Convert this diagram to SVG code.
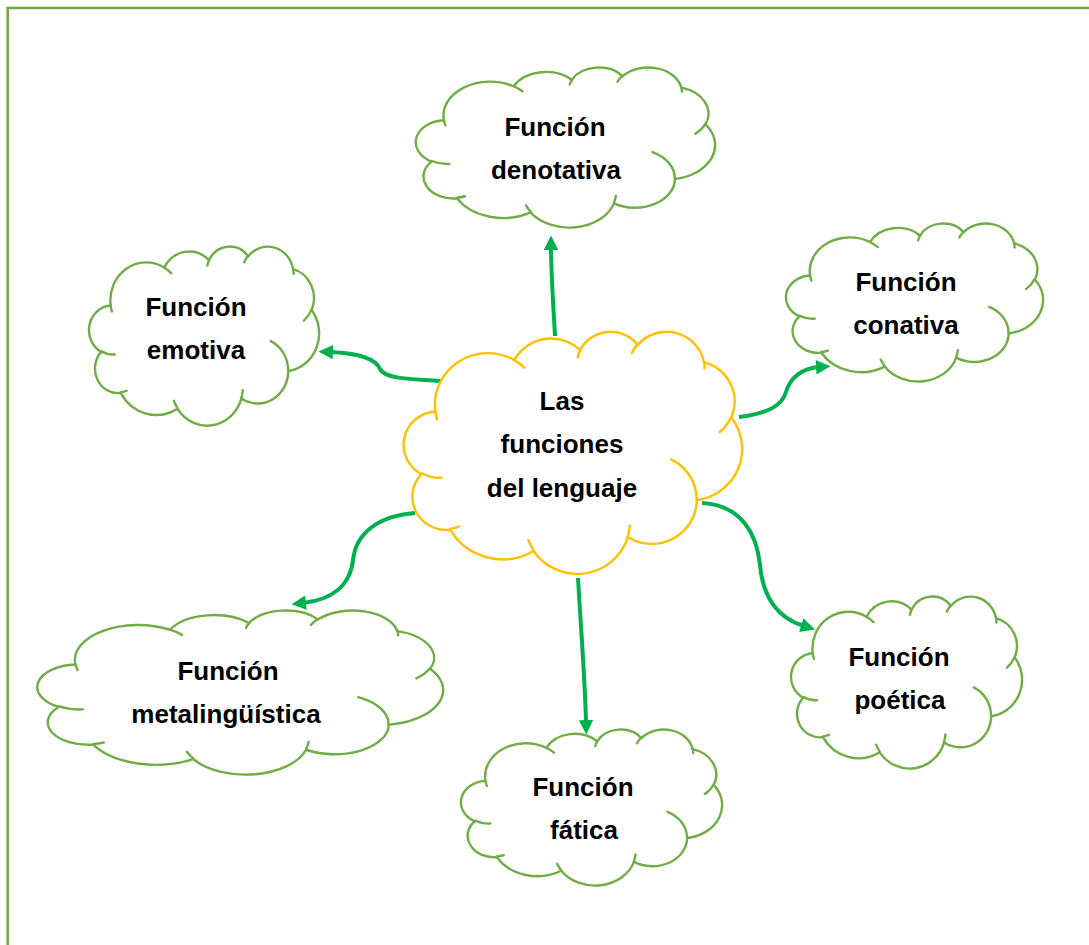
<svg xmlns="http://www.w3.org/2000/svg" xmlns:xlink="http://www.w3.org/1999/xlink" width="1089" height="945" viewBox="0 0 1089 945">
<style>
.frame{fill:#ffffff;stroke:#70AD47;stroke-width:2.6}
.cloud{fill:#ffffff;stroke-width:2.4;stroke-linecap:round}
.tuck{fill:none;stroke-width:2.4;stroke-linecap:round}
.g{stroke:#70AD47}
.y{stroke:#FFC000}
.lbl{font-family:"Liberation Sans",Arial,sans-serif;font-weight:bold;font-size:26px;fill:#000000;text-anchor:middle}
.conn{fill:none;stroke:#00B050;stroke-width:4;marker-end:url(#arrow)}
</style>
<defs>
<marker id="arrow" viewBox="0 0 10 10" refX="2" refY="5" markerWidth="4" markerHeight="3.6" orient="auto" markerUnits="strokeWidth">
<path d="M0,0 L10,5 L0,10 Z" fill="#00B050"/>
</marker>
<path id="cloudOuter" vector-effect="non-scaling-stroke" d="M39,143.7 A67.53,91.9 0 0 1 140.05,52.02 A53.33,72.67 0 0 1 224.56,34.31 A43.65,59.45 0 0 1 298.33,24.8 A48.57,65.95 0 0 1 383.17,55.75 A53.33,72.73 0 0 1 418.18,154.59 A67.75,92.2 0 0 1 374.03,302.03 A57.85,78.67 0 0 1 285.55,368.13 A67.52,92.15 0 0 1 164.8,392.64 A77.2,105.43 0 0 1 58.04,354.7 A43.6,59.18 0 0 1 21.13,255.48 A43.45,59.45 0 0 1 39,143.7 Z"/>
<path id="cloudTucks" vector-effect="non-scaling-stroke" d="M46.93,261.77 A43.45,59.45 0 0 1 21.6,253.8 M69.28,348.99 A43.6,59.18 0 0 1 58.19,352.81 M164.78,390.9 A67.52,92.15 0 0 1 158.1,373.5 M288.27,347.51 A67.52,92.15 0 0 1 285.6,366.6 M341.29,229.54 A57.85,78.67 0 0 1 373.8,300.9 M417.98,153.54 A53.33,72.73 0 0 1 403.5,180.3 M383.24,54.26 A48.57,65.95 0 0 1 384.0,66.9 M290.78,39.52 A48.57,65.95 0 0 1 298.21,23.4 M221.41,47.2 A43.65,59.45 0 0 1 225.0,33.3 M140,51.92 A67.53,91.9 0 0 1 153.0,65.4 M41.27,157.89 A67.53,91.9 0 0 1 39.0,143.7"/>
</defs>
<rect class="frame" x="7.7" y="8" width="1100" height="960"/>

<g id="connectors">
<path class="conn" d="M555,336 C553,300 551,272 551,247"/>
<path class="conn" d="M441,381 C410,379 385,379 380,369 C376,359 358,353 330,352"/>
<path class="conn" d="M739,417 C770,413 782,405 786,392 C790,378 802,368 819,367"/>
<path class="conn" d="M702,503 C742,505 757,535 760,565 C763,598 778,618 804,626"/>
<path class="conn" d="M415,513 C378,516 356,533 353,560 C350,587 330,600 303,603"/>
<path class="conn" d="M578,578 C581,630 585,680 586,723"/>
</g>

<g id="node-center">
<use xlink:href="#cloudOuter" class="cloud y" transform="translate(405,331) scale(0.7801,0.5602)"/>
<use xlink:href="#cloudTucks" class="tuck y" transform="translate(405,331) scale(0.7801,0.5602)"/>
<text class="lbl" x="562" y="410">Las</text>
<text class="lbl" x="562" y="453">funciones</text>
<text class="lbl" x="562" y="497">del lenguaje</text>
</g>

<g id="node-denotativa">
<use xlink:href="#cloudOuter" class="cloud g" transform="translate(417,67) scale(0.6898,0.3704)"/>
<use xlink:href="#cloudTucks" class="tuck g" transform="translate(417,67) scale(0.6898,0.3704)"/>
<text class="lbl" x="555" y="136">Función</text>
<text class="lbl" x="556" y="179">denotativa</text>
</g>

<g id="node-emotiva">
<use xlink:href="#cloudOuter" class="cloud g" transform="translate(90,246) scale(0.5301,0.4144)"/>
<use xlink:href="#cloudTucks" class="tuck g" transform="translate(90,246) scale(0.5301,0.4144)"/>
<text class="lbl" x="196" y="316">Función</text>
<text class="lbl" x="196" y="359">emotiva</text>
</g>

<g id="node-conativa">
<use xlink:href="#cloudOuter" class="cloud g" transform="translate(787,223) scale(0.5926,0.3657)"/>
<use xlink:href="#cloudTucks" class="tuck g" transform="translate(787,223) scale(0.5926,0.3657)"/>
<text class="lbl" x="906" y="291">Función</text>
<text class="lbl" x="906" y="334">conativa</text>
</g>

<g id="node-poetica">
<use xlink:href="#cloudOuter" class="cloud g" transform="translate(792,596) scale(0.5324,0.3981)"/>
<use xlink:href="#cloudTucks" class="tuck g" transform="translate(792,596) scale(0.5324,0.3981)"/>
<text class="lbl" x="899" y="666">Función</text>
<text class="lbl" x="900" y="709">poética</text>
</g>

<g id="node-fatica">
<use xlink:href="#cloudOuter" class="cloud g" transform="translate(462,729) scale(0.6019,0.3611)"/>
<use xlink:href="#cloudTucks" class="tuck g" transform="translate(462,729) scale(0.6019,0.3611)"/>
<text class="lbl" x="583" y="796">Función</text>
<text class="lbl" x="584" y="839">fática</text>
</g>

<g id="node-metalinguistica">
<use xlink:href="#cloudOuter" class="cloud g" transform="translate(39,610) scale(0.9352,0.3796)"/>
<use xlink:href="#cloudTucks" class="tuck g" transform="translate(39,610) scale(0.9352,0.3796)"/>
<text class="lbl" x="228" y="680">Función</text>
<text class="lbl" x="226" y="723">metalingüística</text>
</g>
</svg>
